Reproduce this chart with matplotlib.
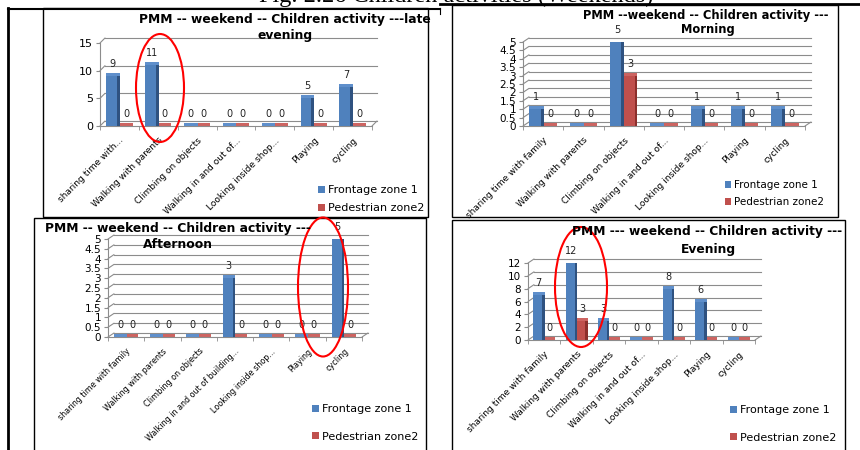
import numpy as np
import matplotlib
matplotlib.use('Agg')
import matplotlib.pyplot as plt
import matplotlib.transforms as mtransforms
from matplotlib.patches import Rectangle, Ellipse, Patch
from matplotlib.lines import Line2D

W, H = 860, 450

# activity names (two variants of truncation)
cats_short = ['sharing time with...', 'Walking with parents', 'Climbing on objects',
              'Walking in and out of...', 'Looking inside shop...', 'Playing', 'cycling']
cats_family = ['sharing time with family', 'Walking with parents', 'Climbing on objects',
               'Walking in and out of...', 'Looking inside shop...', 'Playing', 'cycling']
cats_building = ['sharing time with family', 'Walking with parents', 'Climbing on objects',
                 'Walking in and out of building...', 'Looking inside shop...', 'Playing', 'cycling']

late_frontage = [9, 11, 0, 0, 0, 5, 7]
late_pedestrian = [0, 0, 0, 0, 0, 0, 0]
morning_frontage = [1, 0, 5, 0, 1, 1, 1]
morning_pedestrian = [0, 0, 3, 0, 0, 0, 0]
afternoon_frontage = [0, 0, 0, 3, 0, 0, 5]
afternoon_pedestrian = [0, 0, 0, 0, 0, 0, 0]
evening_frontage = [7, 12, 3, 0, 8, 6, 0]
evening_pedestrian = [0, 3, 0, 0, 0, 0, 0]

series_names = ['Frontage zone 1', 'Pedestrian zone2']

BLUE, BLUE_DK, BLUE_LT = '#4F81BD', '#2F5280', '#5F8FCB'
RED, RED_DK, RED_LT = '#C0504D', '#8C2F2C', '#CD6461'
GRID = '#8C8C8C'

plt.rcParams['font.family'] = ['DejaVu Sans']

fig = plt.figure(figsize=(W / 100, H / 100), dpi=100)


def fx(px):
    return px / W


def fy(py):
    return 1 - py / H


def px_axes(x0, y0, x1, y1):
    return fig.add_axes([fx(x0), fy(y1), (x1 - x0) / W, (y1 - y0) / H])


def column_chart(ax, labels, front, back, ymax, step, wall=(5, 5), ytick_size=7.5,
                 xtick_size=6.5):
    n = len(labels)
    x = np.arange(n)
    ticks = np.arange(0, ymax + step / 2, step)
    shift = ax.transData + mtransforms.ScaledTranslation(wall[0] / 100, wall[1] / 100,
                                                         fig.dpi_scale_trans)
    # back wall gridlines with perspective connectors
    for v in ticks:
        ax.plot([-0.5, n - 0.5], [v, v], transform=shift, color=GRID, lw=0.8,
                clip_on=False, zorder=0)
        ax.annotate('', xy=(-0.5, v), xytext=wall, textcoords='offset pixels',
                    arrowprops=dict(arrowstyle='-', color=GRID, lw=0.8, shrinkA=0, shrinkB=0),
                    annotation_clip=False)
    ax.annotate('', xy=(n - 0.5, 0), xytext=wall, textcoords='offset pixels',
                arrowprops=dict(arrowstyle='-', color=GRID, lw=0.8, shrinkA=0, shrinkB=0),
                annotation_clip=False)

    # depth of the column tops, 3 px in data units
    depth = 3 * ymax / ax.bbox.height

    # columns: front face, darker side face, lighter top face
    ax.bar(x - 0.20, front, width=0.28, color=BLUE, lw=0, zorder=3)
    ax.bar(x - 0.025, front, width=0.07, color=BLUE_DK, lw=0, zorder=3)
    ax.bar(x - 0.165, depth, bottom=front, width=0.35, color=BLUE_LT, lw=0, zorder=3)
    ax.bar(x + 0.14, back, width=0.26, color=RED, lw=0, zorder=2)
    ax.bar(x + 0.305, back, width=0.07, color=RED_DK, lw=0, zorder=2)
    ax.bar(x + 0.175, depth, bottom=back, width=0.33, color=RED_LT, lw=0, zorder=2)

    for xi, v in zip(x, front):
        ax.annotate(f'{v:g}', (xi - 0.17, v), xytext=(0, 5), textcoords='offset points',
                    ha='center', va='bottom', fontsize=7, color='#222222')
    for xi, v in zip(x, back):
        ax.annotate(f'{v:g}', (xi + 0.17, v), xytext=(0, 5), textcoords='offset points',
                    ha='center', va='bottom', fontsize=7, color='#222222')

    ax.set_xlim(-0.5, n - 0.5)
    ax.set_ylim(0, ymax)
    ax.set_yticks(ticks)
    ax.set_yticklabels([f'{t:g}' for t in ticks], fontsize=ytick_size)
    ax.set_xticks(x)
    ax.set_xticklabels(labels, rotation=45, ha='right', rotation_mode='anchor',
                       fontsize=xtick_size)
    ax.set_xticks(np.arange(-0.5, n), minor=True)
    ax.tick_params(axis='x', which='major', length=0, pad=7)
    ax.tick_params(axis='x', which='minor', length=3, color=GRID)
    ax.tick_params(axis='y', length=3, color=GRID, pad=2)
    for s in ['top', 'right']:
        ax.spines[s].set_visible(False)
    for s in ['left', 'bottom']:
        ax.spines[s].set_color(GRID)
        ax.spines[s].set_linewidth(0.8)
    ax.patch.set_alpha(0)


def legend_at(x, y, spacing, size=8):
    handles = [Patch(facecolor=BLUE), Patch(facecolor=RED)]
    fig.legend(handles, series_names, loc='upper left', bbox_to_anchor=(fx(x), fy(y)),
               frameon=False, fontsize=size, handlelength=0.6, handleheight=0.6,
               handletextpad=0.3, labelspacing=spacing, borderpad=0, borderaxespad=0)


def title_line(x, y, text, ha='center', size=8.6):
    fig.text(fx(x), fy(y), text, ha=ha, va='center', fontsize=size, fontweight='bold')


def box(x0, y0, x1, y1, lw=1.0):
    fig.add_artist(Rectangle((fx(x0), fy(y1)), (x1 - x0) / W, (y1 - y0) / H,
                             transform=fig.transFigure, fill=False, ec='black', lw=lw))


def hline(x0, x1, y, lw):
    fig.add_artist(Line2D([fx(x0), fx(x1)], [fy(y), fy(y)], transform=fig.transFigure,
                          color='black', lw=lw))


def vline(x, y0, y1, lw):
    fig.add_artist(Line2D([fx(x), fx(x)], [fy(y0), fy(y1)], transform=fig.transFigure,
                          color='black', lw=lw))


# page frame and chart boxes
vline(8, 8, 450, 2.0)
hline(8, 440, 8.5, 1.5)
hline(440, 860, 4, 2.0)
vline(440, 8, 14, 0.8)
box(43, 8, 428, 217)
box(452, 5, 838, 217)
box(34, 218, 426, 452)
box(452, 220, 845, 452)

fig.text(fx(456), fy(2), 'Fig. 2.26 Children activities (Weekends)', ha='center',
         va='baseline', fontsize=17.5, family='Liberation Serif')

# late evening
ax1 = px_axes(100, 43, 372, 126)
column_chart(ax1, cats_short, late_frontage, late_pedestrian, 15, 5, wall=(5, 5), ytick_size=8)
title_line(285, 20, 'PMM -- weekend -- Children activity ---late', size=8.8)
title_line(285, 35, 'evening', size=8.8)
legend_at(318, 185, 0.75)

# morning
ax2 = px_axes(523, 42, 805, 126)
column_chart(ax2, cats_family, morning_frontage, morning_pedestrian, 5, 0.5, wall=(6, 4))
title_line(706, 15, 'PMM --weekend -- Children activity ---', size=8.3)
title_line(708, 29, 'Morning', size=8.3)
legend_at(725, 180, 0.7, size=7.5)

# afternoon
ax3 = px_axes(108, 239, 362, 337)
column_chart(ax3, cats_building, afternoon_frontage, afternoon_pedestrian, 5, 0.5,
             wall=(6, 4), xtick_size=5.8)
title_line(45, 228, 'PMM -- weekend -- Children activity ---', ha='left', size=8.9)
title_line(178, 244, 'Afternoon', size=8.9)
legend_at(312, 404, 1.6)

# evening
ax4 = px_axes(528, 263, 755, 340)
column_chart(ax4, cats_family, evening_frontage, evening_pedestrian, 12, 2, wall=(6, 4))
title_line(707, 232, 'PMM --- weekend -- Children activity ---', size=8.8)
title_line(708, 249, 'Evening', size=8.8)
legend_at(730, 405, 1.6)

# highlight rings
for cx, cy, w, h in [(160, 88, 48, 108), (323, 287, 50, 139), (581, 287, 52, 120)]:
    fig.add_artist(Ellipse((fx(cx), fy(cy)), w / W, h / H, transform=fig.transFigure,
                           fill=False, ec='red', lw=1.5))

fig.savefig('out.png', dpi=100)
